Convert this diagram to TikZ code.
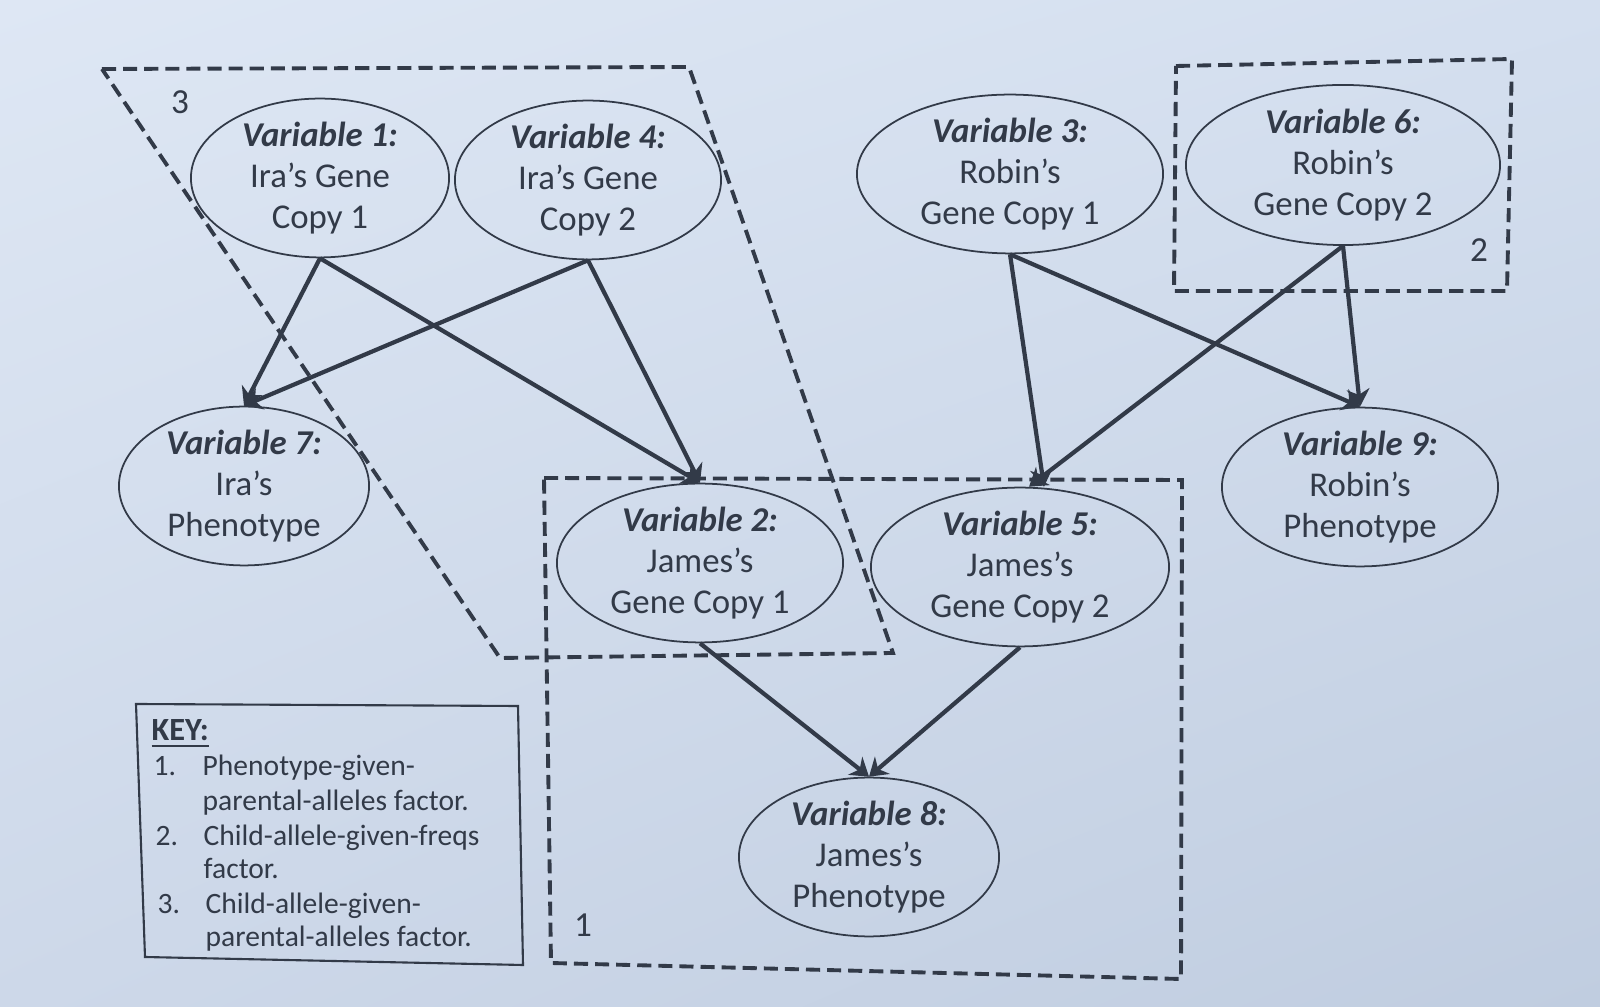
\documentclass[tikz,border=0pt]{standalone}
\usepackage{fontspec}
\setmainfont{Carlito}
\usetikzlibrary{arrows.meta,shapes.geometric,shadings}
\definecolor{ink}{RGB}{50,58,72}
\definecolor{bgA}{RGB}{222,231,244}
\definecolor{bgB}{RGB}{212,223,239}
\definecolor{bgC}{RGB}{205,216,233}
\definecolor{bgD}{RGB}{192,205,224}
\begin{document}
\begin{tikzpicture}[x=0.01cm,y=-0.01cm,
  var/.style={ellipse, draw=ink, line width=0.5pt, inner sep=0pt, align=center, text=ink,
              font=\fontsize{9.9}{11.7}\selectfont},
  edge/.style={draw=ink, line width=1.2pt, -{Stealth[length=5pt,width=6.5pt]}},
  plate/.style={draw=ink, line width=1.1pt, dash pattern=on 4pt off 2pt},
  platelbl/.style={text=ink, font=\fontsize{10}{12}\selectfont, inner sep=0pt},
  keytxt/.style={text=ink, font=\fontsize{8.4}{9.9}\selectfont, anchor=base west, inner sep=0pt}]
% background
\useasboundingbox (0,0) rectangle (1600,1007);
\shade[upper left=bgA, upper right=bgB, lower left=bgC, lower right=bgD] (0,0) rectangle (1600,1007);

% plate corners
\coordinate (p3a) at (102,69);
\coordinate (p3b) at (689,67);
\coordinate (p3c) at (893,653);
\coordinate (p3d) at (500,658);
\coordinate (p2a) at (1176,66);
\coordinate (p2b) at (1512,59);
\coordinate (p2c) at (1507,291);
\coordinate (p2d) at (1174,291);
\coordinate (p1a) at (544,478);
\coordinate (p1b) at (1182,480);
\coordinate (p1c) at (1181,979);
\coordinate (p1d) at (551,963);
\coordinate (ka) at (136,704);
\coordinate (kb) at (518,706);
\coordinate (kc) at (523,965);
\coordinate (kd) at (145,957);

% plates
\draw[plate] (p3a) -- (p3b) -- (p3c) -- (p3d) -- cycle;
\draw[plate] (p2a) -- (p2b) -- (p2c) -- (p2d) -- cycle;
\draw[plate] (p1a) -- (p1b) -- (p1c) -- (p1d) -- cycle;
\node[platelbl] (l3) at (180,102) {3};
\node[platelbl] (l2) at (1479,250) {2};
\node[platelbl] (l1) at (583,925) {1};

% variables
\node[var, minimum width=2.58cm, minimum height=1.50cm] (v1) at (320,178)
  {\textbf{\textit{Variable 1:}}\\Ira’s Gene\\Copy 1};
\node[var, minimum width=2.66cm, minimum height=1.50cm] (v4) at (588,180)
  {\textbf{\textit{Variable 4:}}\\Ira’s Gene\\Copy 2};
\node[var, minimum width=3.06cm, minimum height=1.56cm] (v3) at (1010,174)
  {\textbf{\textit{Variable 3:}}\\Robin’s\\Gene Copy 1};
\node[var, minimum width=3.14cm, minimum height=1.60cm] (v6) at (1343,165)
  {\textbf{\textit{Variable 6:}}\\Robin’s\\Gene Copy 2};
\node[var, minimum width=2.50cm, minimum height=1.42cm] (v7) at (244,486)
  {\textbf{\textit{Variable 7:}}\\Ira’s\\Phenotype};
\node[var, minimum width=2.86cm, minimum height=1.50cm] (v2) at (700,563)
  {\textbf{\textit{Variable 2:}}\\James’s\\Gene Copy 1};
\node[var, minimum width=2.98cm, minimum height=1.50cm] (v5) at (1020,567)
  {\textbf{\textit{Variable 5:}}\\James’s\\Gene Copy 2};
\node[var, minimum width=2.76cm, minimum height=1.56cm] (v9) at (1360,487)
  {\textbf{\textit{Variable 9:}}\\Robin’s\\Phenotype};
\node[var, minimum width=2.60cm, minimum height=1.48cm] (v8) at (869,857)
  {\textbf{\textit{Variable 8:}}\\James’s\\Phenotype};

% edges
\draw[edge] (v1.south) -- (v7.north);
\draw[edge] (v4.south) -- (v7.north);
\draw[edge] (v1.south) -- (v2.north);
\draw[edge] (v4.south) -- (v2.north);
\draw[edge] (v3.south) -- ([xshift=0.24cm]v5.north);
\draw[edge] (v6.south) -- ([xshift=0.09cm]v5.north);
\draw[edge] (v3.south) -- (v9.north);
\draw[edge] (v6.south) -- (v9.north);
\draw[edge] (v2.south) -- (v8.north);
\draw[edge] (v5.south) -- (v8.north);

% key
\draw[draw=ink, line width=0.6pt] (ka) -- (kb) -- (kc) -- (kd) -- cycle;
\node[keytxt, font=\fontsize{9.2}{10}\selectfont] (kh) at (151,741) {\textbf{\underline{KEY:}}};
\node[keytxt] (k1n) at (153,776) {1.};
\node[keytxt] (k1a) at (202,776) {Phenotype-given-};
\node[keytxt] (k1b) at (202,811) {parental-alleles factor.};
\node[keytxt] (k2n) at (155,846) {2.};
\node[keytxt] (k2a) at (203,846) {Child-allele-given-freqs};
\node[keytxt] (k2b) at (203,879) {factor.};
\node[keytxt] (k3n) at (157,913) {3.};
\node[keytxt] (k3a) at (205,913) {Child-allele-given-};
\node[keytxt] (k3b) at (205,947) {parental-alleles factor.};
\end{tikzpicture}
\end{document}
